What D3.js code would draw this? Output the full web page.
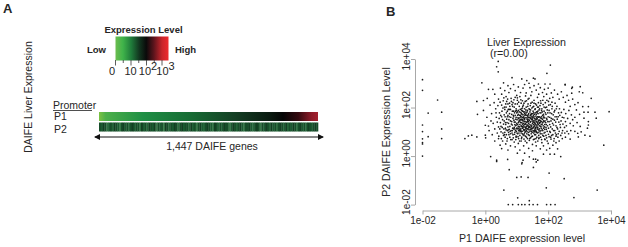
<!DOCTYPE html>
<html>
<head>
<meta charset="utf-8">
<script src="https://cdn.jsdelivr.net/npm/d3@7"></script>
<style>
html, body { margin: 0; padding: 0; background: #fff; }
text { font-family: "Liberation Sans", Arial, sans-serif; fill: #262626; }
</style>
</head>
<body>
<svg id="chart" width="628" height="247"></svg>
<script>
// legend
var legendStops = [[0, "#6cbd4f"], [0.14, "#3fb34a"], [0.3, "#1f7a3a"], [0.45, "#12351f"], [0.58, "#0a0a0a"], [0.72, "#5a141c"], [0.88, "#c9252b"], [1, "#ee2a2e"]];
var legendMajor = [0, 1, 2, 3];
var legendMinor = [0.5, 1.5, 2.5];
var legendLabels = [["0", ""], ["10", ""], ["10", "2"], ["10", "3"]];

// heat strips, genes in P1 order
var p1Stops = [[0, "#7cc242"], [0.03, "#4db04a"], [0.2, "#1f8f45"], [0.42, "#176b34"], [0.62, "#143f24"], [0.78, "#0a1a10"], [0.84, "#050505"], [0.91, "#33090f"], [0.97, "#8c1a28"], [1, "#a3202e"]];
var p2Levels = [2,3,1,2,5,3,2,4,1,2,3,6,2,1,3,2,4,2,1,3,2,2,5,1,3,2,4,1,2,3,1,6,2,3,2,7,1,2,4,2,3,1,2,5,2,1,3,2,2,4,1,3,2,6,2,1,3,4,2,1,2,3,5,1,2,4,2,3,1,2,2,6,3,1,2,4,2,1,3,5,2,2,1,3,4,2,1,2,6,2,3,1,2,4,1,3,2,5,2,1,2,3,1,4,2,3,1,2,5,2,1,3,2,4,1,2,3,2,1,2];

// scatter, log10 of expression
var xTicks = [-2, 0, 2, 4];
var yTicks = [-2, 0, 2, 4];
var edgePoints = [
[-2,3.15],[-2,2.71],[-2,1.28],[-2,1.01],[-2,0.71],[-2,0.56],[-2,0.5],[-2,0],[-1.82,0.8],[-1.39,0.72],[-1.52,2.31],[-1.82,1.77],[-1.39,1.81],[-1.39,1.12],
[0.73,-2],[0.87,-2],[1.16,-2],[1.26,-2],[1.4,-2],[1.52,-2],[1.66,-2],[1.95,-2],[2.08,-2],[2.22,-2],[1.05,-2],[1.03,-1.72],[1.4,-1.84],[0.59,-1.4],[1.94,-1.31],[2.82,-1.71],[3.56,-1.4],[2.51,-0.93],[2.03,-0.7],[1,-0.88],[1.14,-0.86],[1.36,-0.88],[0.76,-0.56],[1.53,-0.47],
[0.17,-0.02],[0.36,-0.17],[0.36,-0.22],[0.71,-0.14],[1.17,-0.27],[1.2,-0.17],[1.16,-0.32],[1.4,-0.03],[1.53,-0.13],[1.6,-0.13],[1.67,-0.17],[1.62,-0.24],[1.85,0.08],[2.06,0.08],[2.2,0.08],[2.4,-0.02],[3.77,0.45],
[2.07,3.75],[1.96,3.41],[3.94,1.83],[3.37,2.38],[3.02,2.86],[2.77,2.84],[2.54,2.93],[2.99,2.65],[3.1,2.61],[3.49,1.81],[3.53,1.56],[3.28,1.42],[3.28,1.28],[3.25,1.15],[3.28,2.04],[3.1,2.04],[3.14,1.81],[3.27,1.81],[3.14,1.56],[2.94,0.94],
[0.85,3.23],[1.16,3.18],[1.32,3.11],[1.53,3.21],[1.58,3.18],[2.06,2.97],[1.9,2.97],[1.69,2.97],[1.39,3],[0.41,3.9],[0.36,3.68],[0.41,3.47],
[3.17,0.86],[3.33,0.82],[2.96,0.79],[-0.65,0.72],[-0.54,0.83],[-0.43,0.86],[-0.27,0.79],[0,0.86],[0.01,0.75],[0,1.27],[0.1,1.24],[0.47,0.45],[0.52,0.31],
[-0.27,2.25],[-0.06,2.29],[-0.25,1.72],[-0.06,1.88],[-0.11,3.02],[0.1,2.75],[0.24,2.75],[0.06,2.38],[2.54,2.96],[2.75,2.79],[2.75,2.59]
];
var haloPoints = [
[0.15,2.1],[0.3,2.55],[0.28,2.2],[0.05,1.6],[0.2,1.75],[0.33,1.95],[0.12,1.05],[0.25,1.35],[0.38,0.95],[0.42,2.35],[0.48,2.8],[0.52,2.55],[0.58,3.02],[0.62,2.7],[0.66,2.45],[0.72,2.9],[0.75,2.62],[0.8,2.78],[0.9,2.95],[0.95,2.7],[1,2.5],[1.05,2.85],[1.12,2.62],[1.2,2.8],[1.25,2.95],[1.3,2.6],[1.42,2.82],[1.48,2.65],[1.55,2.9],[1.62,2.72],[1.7,2.55],[1.75,2.82],[1.82,2.62],[1.88,2.75],[1.95,2.55],[2,2.8],[2.1,2.6],[2.15,2.42],[2.2,2.72],[2.3,2.55],[2.35,2.35],[2.42,2.65],[2.48,2.42],[2.55,2.22],[2.6,2.5],[2.65,2.3],[2.7,2.05],[2.78,2.35],[2.85,2.12],[2.9,1.9],[2.95,2.2],[3,1.72],[2.85,1.6],[2.92,1.38],[3.02,1.22],[2.8,1.25],[2.72,1.05],[2.85,1.02],[3.05,1],[2.65,0.92],[2.55,0.78],[2.7,0.7],[2.45,0.72],[2.35,0.62],[2.25,0.55],[2.15,0.45],[2.3,0.3],[2.05,0.32],[1.95,0.25],[1.85,0.42],[1.75,0.3],[1.62,0.42],[1.5,0.22],[1.38,0.32],[1.25,0.12],[1.1,0.25],[1.02,0.12],[0.95,0.38],[0.8,0.42],[0.72,0.25],[0.65,0.5],[0.55,0.62],[0.42,0.72],[0.3,0.62],[0.22,0.88],
[0.18,1.45],[0.35,1.6],[0.42,1.2],[0.45,1.78],[0.5,1],[0.52,2.1],[0.55,1.5],[0.58,0.85],[0.62,1.92],[0.65,1.3],[0.68,2.25],[0.7,0.72],[0.72,1.68],[0.76,1.1],[0.78,2.05],[0.8,0.92],[0.82,2.38],[0.85,0.68],[0.88,2.2],[0.92,0.58],[0.95,2.42],[0.98,0.78],[1.02,2.3],[1.05,0.52],[1.1,2.45],[1.14,0.62],[1.18,2.28],[1.22,0.42],[1.28,2.48],[1.32,0.55],[1.36,2.35],[1.4,0.65],[1.45,2.5],[1.5,0.48],[1.55,2.3],[1.6,0.58],[1.66,2.42],[1.7,0.72],[1.76,2.28],[1.8,0.55],[1.86,2.45],[1.9,0.68],[1.96,2.3],[2,0.52],[2.05,2.38],[2.08,0.78],[2.12,2.22],[2.18,0.62],[2.22,2.18],[2.25,0.82],[2.28,2.05],[2.32,0.92],[2.36,1.95],[2.4,0.85],[2.42,1.8],[2.46,1.05],[2.5,1.92],[2.52,1.18],[2.56,1.75],[2.6,1.02],[2.62,1.55],[2.66,1.88],[2.7,1.35],[2.74,1.7],[2.78,1.5],[2.55,1.42],[2.45,1.6],[2.38,1.3],[2.32,1.62]
];
var corePoints = [
[0.6,1.7],[0.64,1.15],[0.68,1.52],[0.7,1.85],[0.74,1.35],[0.74,0.98],[0.76,1.62],[0.78,1.22],[0.8,1.92],[0.8,1.45],[0.82,1.05],[0.84,1.72],[0.85,2.12],[0.86,1.28],[0.88,1.55],[0.88,0.88],[0.9,1.85],[0.9,1.12],[0.92,1.4],[0.92,2.02],[0.94,0.98],[0.95,1.68],[0.96,1.25],[0.97,1.52],[0.98,1.95],[0.98,0.82],[1,1.35],[1,1.78],[1.01,1.12],[1.02,2.15],[1.03,0.92],[1.04,1.58],[1.05,1.22],[1.05,1.88],[1.06,0.72],[1.07,1.42],[1.08,1.05],[1.08,2.05],[1.09,1.68],[1.1,1.3],[1.1,0.85],[1.11,1.92],[1.12,1.5],[1.13,1.12],[1.14,2.18],[1.14,0.95],[1.15,1.75],[1.16,1.38],[1.16,0.78],[1.17,1.02],[1.18,1.6],[1.18,1.98],[1.19,1.22],[1.2,0.88],[1.2,1.45],[1.21,2.1],[1.22,1.82],[1.22,1.1],[1.23,0.7],[1.24,1.55],[1.24,1.3],[1.25,1.95],[1.26,0.98],[1.26,1.68],[1.27,2.25],[1.28,1.18],[1.28,0.82],[1.29,1.42],[1.3,1.78],[1.3,2.02],[1.31,1.05],[1.32,1.58],[1.32,0.92],[1.33,1.28],[1.34,1.88],[1.34,0.72],[1.35,1.48],[1.36,1.12],[1.36,2.15],[1.37,1.7],[1.38,0.98],[1.38,1.35],[1.39,1.95],[1.4,1.2],[1.4,0.85],[1.41,1.6],[1.42,1.82],[1.42,1.02],[1.43,2.08],[1.44,1.42],[1.44,0.75],[1.45,1.25],[1.46,1.7],[1.46,0.92],[1.47,1.52],[1.48,1.98],[1.48,1.12],[1.49,2.22],[1.5,1.35],[1.5,0.82],[1.51,1.62],[1.52,1.05],[1.52,1.85],[1.53,1.45],[1.54,0.95],[1.54,2.05],[1.55,1.22],[1.56,1.72],[1.56,0.7],[1.57,1.55],[1.58,1.1],[1.58,1.92],[1.59,1.32],[1.6,0.88],[1.6,2.15],[1.61,1.65],[1.62,1.02],[1.62,1.42],[1.63,1.82],[1.64,1.2],[1.64,0.78],[1.65,1.55],[1.66,2.02],[1.66,0.95],[1.67,1.35],[1.68,1.75],[1.68,1.1],[1.69,2.2],[1.7,1.48],[1.7,0.85],[1.71,1.9],[1.72,1.25],[1.73,1.62],[1.74,1],[1.74,2.08],[1.75,1.4],[1.76,0.78],[1.77,1.78],[1.78,1.15],[1.78,1.55],[1.8,0.92],[1.8,1.95],[1.81,1.32],[1.82,1.68],[1.83,1.05],[1.84,2.12],[1.85,1.45],[1.86,0.82],[1.87,1.85],[1.88,1.2],[1.89,1.58],[1.9,0.98],[1.91,2],[1.92,1.38],[1.93,1.72],[1.94,1.1],[1.95,0.75],[1.96,1.5],[1.97,1.9],[1.98,1.25],[2,1.62],[2.01,0.9],[2.02,2.1],[2.03,1.42],[2.05,1.02],[2.06,1.78],[2.08,1.2],[2.1,1.55],[2.11,0.85],[2.12,1.95],[2.14,1.35],[2.16,1.7],[2.17,1.05],[2.2,1.48],[2.21,1.88],[2.23,0.95],[2.25,1.25],[2.27,1.62],[2.3,1.12],[2.33,1.78],[0.62,0.98],[0.66,2.02],[0.58,1.32],[0.52,1.62],[0.48,1.38],[0.72,2.15],[0.78,0.78],[0.7,1.05],
[1.15,1.22],[1.25,1.5],[1.35,1.62],[1.45,1.08],[1.55,1.38],[1.65,1.28],[1.2,1.7],[1.3,1.15],[1.4,1.48],[1.5,1.75],[1.6,1.18],[1.7,1.6],[1.1,1.58],[1.18,1.32],[1.28,1.02],[1.38,1.75],[1.48,1.28],[1.58,1.48],[1.68,1.42],[1.78,1.3],[1.05,1.72],[1.12,1.05],[1.22,1.62],[1.32,1.38],[1.42,1.3],[1.52,1.58],[1.62,1.72],[1.72,1.12],[1.82,1.52],[1,1.15],[1.08,1.48],[1.16,1.88],[1.26,1.2],[1.36,1.52],[1.46,1.62],[1.56,1.05],[1.66,1.62],[1.76,1.45],[0.95,1.4],[1.02,1.82],[1.14,1.62],[1.24,1.42],[1.34,1.12],[1.44,1.55],[1.54,1.3],[1.64,1.5],[1.74,1.78],[1.84,1.25],[0.92,1.18],[1.06,1.05],[1.18,1.15],[1.3,1.68],[1.42,1.18],[1.52,1.4],[1.62,1.28],[1.72,1.38],[1.86,1.65],[1.94,1.3],
[1.12,1.38],[1.22,1.25],[1.33,1.82],[1.43,1.68],[1.53,1.18],[1.63,1.58],[1.73,1.48],[1.83,1.38],[1.03,1.3],[1.13,1.8],[1.23,1.05],[1.34,1.42],[1.44,1.9],[1.55,1.62],[1.65,1.12],[1.75,1.22],[1.85,1.72],[0.98,1.6],[1.09,1.2],[1.19,1.5],[1.29,1.3],[1.39,1.08],[1.49,1.45],[1.59,1.78],[1.69,1.3],[1.79,1.62],[1.89,1.1],[1.16,1.02],[1.26,1.82],[1.36,1.28],[1.47,1.02],[1.57,1.25],[1.67,1.85],[1.77,1.05],[1.87,1.42],[1.07,0.95],[1.17,1.72],[1.27,1.58],[1.37,1.42],[1.47,1.75],[1.58,1],[1.68,0.98],[1.79,1.88],[1.9,1.45]
];
var midPoints = [
[0.5,1.22],[0.53,1.85],[0.56,0.95],[0.57,2.28],[0.6,1.45],[0.61,2.02],[0.63,1.62],[0.63,0.78],[0.65,2.15],[0.66,1.08],[0.67,1.78],[0.69,1.38],[0.69,0.62],[0.71,2.35],[0.72,1.2],[0.73,1.92],[0.75,0.88],[0.75,1.5],[0.77,2.18],[0.77,1.75],[0.79,1.02],[0.81,0.68],[0.81,1.6],[0.83,2.25],[0.83,1.32],[0.85,0.95],[0.86,1.85],[0.87,2.05],[0.87,1.15],[0.89,1.68],[0.89,0.75],[0.91,1.48],[0.91,2.32],[0.93,0.9],[0.93,1.78],[0.94,1.3],[0.95,2.15],[0.96,1.05],[0.97,0.68],[0.99,1.28],[0.99,1.88],[1.01,0.95],[1.01,1.5],[1.02,2.4],[1.03,1.68],[1.04,0.8],[1.05,1.38],[1.06,2.22],[1.07,1.12],[1.08,1.82],[1.09,0.62],[1.1,1.45],[1.11,1.02],[1.12,1.68],[1.13,2.32],[1.14,1.25],[1.15,0.72],[1.15,1.95],[1.17,1.48],[1.18,0.92],[1.19,2.05],[1.2,1.18],[1.21,1.58],[1.23,0.85],[1.23,2.18],[1.25,1.08],[1.25,1.75],[1.27,0.62],[1.27,1.35],[1.29,1.9],[1.29,1.12],[1.31,2.28],[1.31,0.78],[1.33,1.52],[1.33,1],[1.35,2.05],[1.35,1.25],[1.37,0.88],[1.37,1.6],[1.39,2.38],[1.39,1.22],
[1.41,0.72],[1.41,1.92],[1.43,1.4],[1.43,1.1],[1.45,2.18],[1.45,1.72],[1.47,0.8],[1.47,1.22],[1.49,1.58],[1.49,0.98],[1.51,2.02],[1.51,1.15],[1.53,0.68],[1.53,1.68],[1.55,1.02],[1.55,2.18],[1.57,1.4],[1.57,0.88],[1.59,1.95],[1.59,1.15],[1.61,0.72],[1.61,1.52],[1.63,2.1],[1.63,0.98],[1.65,1.38],[1.65,1.78],[1.67,0.62],[1.67,1.18],[1.69,1.62],[1.69,2.02],[1.71,1.05],[1.71,0.75],[1.73,1.35],[1.73,1.95],[1.75,0.92],[1.75,1.58],[1.77,2.18],[1.77,1.22],[1.79,0.68],[1.79,1.42],[1.81,1.82],[1.81,1.08],[1.83,2.3],[1.83,0.85],[1.85,1.58],[1.85,1.15],[1.87,2.02],[1.87,0.95],[1.89,1.3],[1.89,0.7],[1.91,1.78],[1.91,2.2],[1.93,1.18],[1.93,0.85],[1.95,1.55],[1.95,2.02],[1.97,1.02],[1.97,0.62],[1.99,1.42],[1.99,1.78],[2.01,1.15],[2.01,2.25],[2.03,0.8],[2.03,1.88],[2.05,1.3],[2.05,1.6],[2.07,0.98],[2.07,2.12],[2.09,1.45],[2.09,0.7],[2.11,1.75],[2.13,1.12],[2.13,2.05],[2.15,0.88],[2.15,1.52],[2.17,1.28],[2.19,1.82],[2.19,0.72],[2.21,1.05],[2.22,1.62],[2.24,1.4],[2.26,0.88],[2.26,1.95],[2.28,1.18],[2.29,1.52],[2.31,0.78],[2.34,1.4],[2.35,1.02],[2.37,1.68],[2.39,1.18],[2.41,1.45],[2.44,0.95],[2.47,1.32],[2.5,1.58],[2.53,0.95],[2.58,1.25],
[0.3,1.12],[0.34,1.78],[0.38,1.4],[0.4,2.08],[0.43,0.82],[0.44,1.55],[0.46,1.12],[0.47,2.22],[0.49,1.68],[0.51,0.72],[0.54,1.18],[0.56,1.98],[0.59,1.12],[0.59,2.4],[0.61,0.88],[0.64,1.38],[0.67,0.88],[0.7,1.62],[0.73,1.08],[0.76,1.92],[0.84,1.42],[0.86,1.05],[0.9,1.62],[0.94,1.12],[0.96,1.85],[0.99,1.02],[1.04,1.15],[1.06,1.55],[1.1,1.1],[1.13,1.62],[1.16,1.52],[1.19,1.85],[1.21,1.35],[1.24,0.92],[1.28,1.72],[1.32,1.22],[1.34,1.68],[1.38,1.18],[1.42,1.58],[1.46,1.15],[1.5,1.52],[1.54,1.78],[1.58,1.35],[1.6,1.05]
];

var svg = d3.select("#chart");

// panel letters
svg.append("text").attr("x", 3).attr("y", 12.5).attr("font-size", 13).attr("font-weight", "bold").text("A");
svg.append("text").attr("x", 386).attr("y", 16).attr("font-size", 13).attr("font-weight", "bold").text("B");

// panel A, legend
var defs = svg.append("defs");
function addGradient(id, stops) {
  defs.append("linearGradient").attr("id", id)
    .selectAll("stop").data(stops).enter().append("stop")
    .attr("offset", function(d) { return d[0]; })
    .attr("stop-color", function(d) { return d[1]; });
}
addGradient("legendGrad", legendStops);
addGradient("p1Grad", p1Stops);

svg.append("rect").attr("x", 115.5).attr("y", 36.5).attr("width", 53).attr("height", 24).attr("fill", "url(#legendGrad)");
svg.append("text").attr("x", 143.5).attr("y", 32.5).attr("text-anchor", "middle").attr("font-size", 9.5).attr("font-weight", "bold").text("Expression Level");
svg.append("text").attr("x", 87).attr("y", 53).attr("font-size", 9.5).attr("font-weight", "bold").text("Low");
svg.append("text").attr("x", 175).attr("y", 53).attr("font-size", 9.5).attr("font-weight", "bold").text("High");

var legendX = d3.scaleLinear().domain([0, 3]).range([115.5, 162]);
svg.selectAll(".legend-major").data(legendMajor).enter().append("line")
  .attr("x1", legendX).attr("x2", legendX).attr("y1", 60).attr("y2", 65.5)
  .attr("stroke", "#333").attr("stroke-width", 0.8);
svg.selectAll(".legend-minor").data(legendMinor).enter().append("line")
  .attr("x1", legendX).attr("x2", legendX).attr("y1", 60).attr("y2", 63)
  .attr("stroke", "#333").attr("stroke-width", 0.8);
var legendText = svg.selectAll(".legend-label").data(legendLabels).enter().append("text")
  .attr("y", 75).attr("text-anchor", "middle").attr("font-size", 11)
  .attr("x", function(d, i) { return [112, 130.5, 148, 165.5][i]; });
legendText.append("tspan").text(function(d) { return d[0]; });
legendText.append("tspan").attr("dy", -5).attr("font-size", 11).text(function(d) { return d[1]; });

svg.append("text").attr("transform", "translate(32,97) rotate(-90)").attr("text-anchor", "middle")
  .attr("font-size", 10.5).text("DAIFE Liver Expression");

// panel A, strips
svg.append("text").attr("x", 53).attr("y", 108.5).attr("font-size", 10.5).text("Promoter");
svg.append("line").attr("x1", 53).attr("x2", 92).attr("y1", 110.5).attr("y2", 110.5).attr("stroke", "#222").attr("stroke-width", 0.8);
svg.append("text").attr("x", 54).attr("y", 119.5).attr("font-size", 10.5).text("P1");
svg.append("text").attr("x", 54).attr("y", 132.5).attr("font-size", 10.5).text("P2");

svg.append("rect").attr("x", 99).attr("y", 112).attr("width", 219).attr("height", 9).attr("fill", "url(#p1Grad)");

var stripX = d3.scaleBand().domain(d3.range(p2Levels.length)).range([99, 318]);
var stripColor = d3.scaleLinear().domain([1, 3, 7]).range(["#123f22", "#1a5a30", "#3f8050"]);
svg.selectAll(".p2").data(p2Levels).enter().append("rect")
  .attr("class", "p2")
  .attr("x", function(d, i) { return stripX(i); })
  .attr("y", 122.5).attr("height", 9)
  .attr("width", stripX.bandwidth() + 0.3)
  .attr("fill", function(d) { return stripColor(d); });

// arrow under the strips
defs.append("marker").attr("id", "head").attr("viewBox", "0 0 6 6").attr("refX", 5).attr("refY", 3)
  .attr("markerWidth", 6).attr("markerHeight", 6).attr("markerUnits", "userSpaceOnUse").attr("orient", "auto-start-reverse")
  .append("path").attr("d", "M0,0L6,3L0,6Z").attr("fill", "#111");
svg.append("line").attr("x1", 95).attr("x2", 323).attr("y1", 137).attr("y2", 137)
  .attr("stroke", "#111").attr("stroke-width", 1.2)
  .attr("marker-start", "url(#head)").attr("marker-end", "url(#head)");
svg.append("text").attr("x", 212).attr("y", 150).attr("text-anchor", "middle").attr("font-size", 10.5).text("1,447 DAIFE genes");

// panel B, scatter
var x = d3.scaleLinear().domain([-2, 4]).range([422.5, 611]);
var y = d3.scaleLinear().domain([-2, 4]).range([204.6, 59]);
function expLabel(d) { return "1e" + (d < 0 ? "-" : "+") + d3.format("02")(Math.abs(d)); }

var xAxis = svg.append("g").attr("transform", "translate(0,210.5)")
  .call(d3.axisBottom(x).tickValues(xTicks).tickFormat(expLabel).tickSize(4).tickSizeOuter(0));
var yAxis = svg.append("g").attr("transform", "translate(415,0)")
  .call(d3.axisLeft(y).tickValues(yTicks).tickFormat(expLabel).tickSize(4).tickSizeOuter(0));
svg.selectAll(".domain, .tick line").attr("stroke", "#a8a8a8");
xAxis.selectAll("text").attr("font-size", 10).attr("font-family", null).attr("dy", null).attr("y", 13);
yAxis.selectAll("text").attr("font-size", 10).attr("font-family", null).attr("dy", null)
  .attr("text-anchor", "middle").attr("x", null)
  .attr("transform", "translate(-5,-3) rotate(-90)");

var allPoints = edgePoints.concat(haloPoints, corePoints, midPoints);
svg.selectAll(".point").data(allPoints).enter().append("circle")
  .attr("class", "point")
  .attr("cx", function(d) { return x(d[0]); })
  .attr("cy", function(d) { return y(d[1]); })
  .attr("r", 0.85)
  .attr("fill", "#1c1c1c");

svg.append("text").attr("x", 487).attr("y", 46).attr("font-size", 10.7).text("Liver Expression");
svg.append("text").attr("x", 490).attr("y", 57).attr("font-size", 10.7).text("(r=0.00)");
svg.append("text").attr("x", 522).attr("y", 242).attr("text-anchor", "middle").attr("font-size", 10.6).text("P1 DAIFE expression level");
svg.append("text").attr("transform", "translate(390,132) rotate(-90)").attr("text-anchor", "middle")
  .attr("font-size", 10.5).text("P2 DAIFE Expression Level");
</script>
</body>
</html>
